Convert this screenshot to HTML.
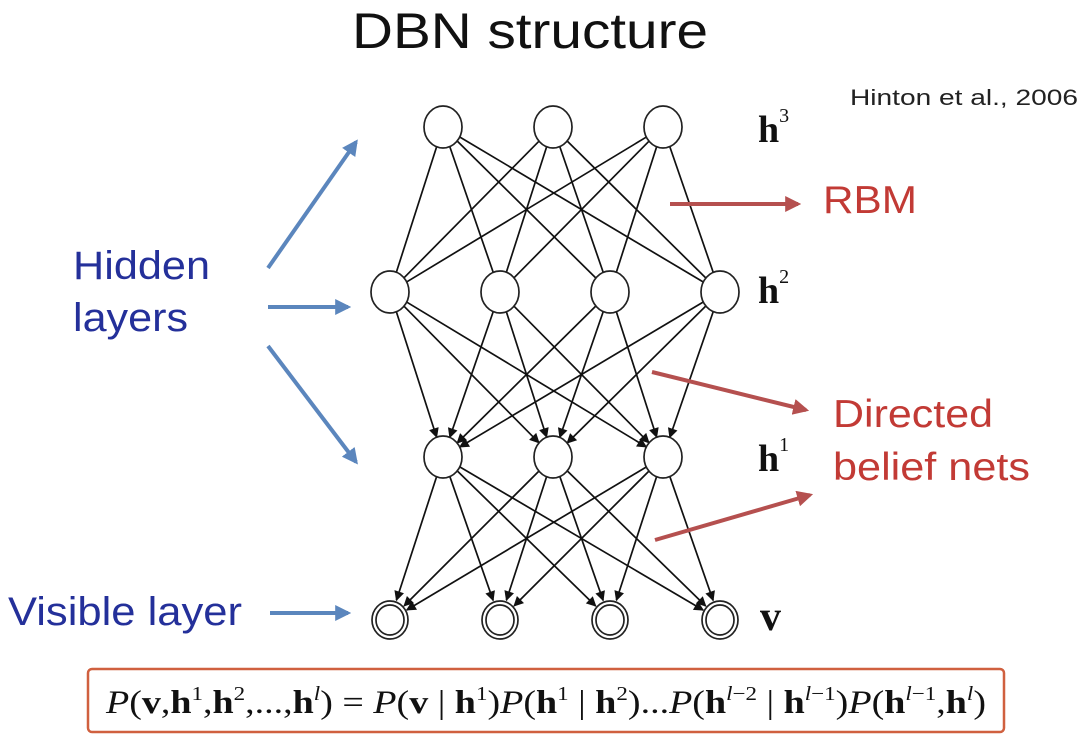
<!DOCTYPE html>
<html><head><meta charset="utf-8"><style>
html,body{margin:0;padding:0;background:#fff;}
body{width:1080px;height:737px;overflow:hidden;position:relative;}
svg{position:absolute;left:0;top:0;}
</style></head><body>
<svg id="s" width="1080" height="737" viewBox="0 0 1080 737" xmlns="http://www.w3.org/2000/svg">
<defs>
<marker id="ak" viewBox="0 0 10 10" refX="9" refY="5" markerWidth="11" markerHeight="10" markerUnits="userSpaceOnUse" orient="auto"><path d="M0,0 L10,5 L0,10 z" fill="#111"/></marker>
<marker id="ab" viewBox="0 0 10 10" refX="8" refY="5" markerWidth="4" markerHeight="4" orient="auto"><path d="M0,0 L10,5 L0,10 z" fill="#5b86bd"/></marker>
<marker id="ar" viewBox="0 0 10 10" refX="8" refY="5" markerWidth="4" markerHeight="4" orient="auto"><path d="M0,0 L10,5 L0,10 z" fill="#b5504f"/></marker>
</defs>
<g id="edges" stroke="#111" stroke-width="1.7"></g>
<g id="nodes" fill="#fff" stroke="#222" stroke-width="1.7"></g>
<g stroke="#5b86bd" stroke-width="4" fill="none">
<line x1="268" y1="268" x2="356" y2="142" marker-end="url(#ab)"/>
<line x1="268" y1="307" x2="348" y2="307" marker-end="url(#ab)"/>
<line x1="268" y1="346" x2="356" y2="462" marker-end="url(#ab)"/>
<line x1="270" y1="613" x2="348" y2="613" marker-end="url(#ab)"/>
</g>
<g stroke="#b5504f" stroke-width="4" fill="none">
<line x1="670" y1="204" x2="798" y2="204" marker-end="url(#ar)"/>
<line x1="652" y1="372" x2="806" y2="410" marker-end="url(#ar)"/>
<line x1="655" y1="540" x2="810" y2="495" marker-end="url(#ar)"/>
</g>
<g font-family="Liberation Sans, sans-serif">
<text x="352" y="48" font-size="50" textLength="356" lengthAdjust="spacingAndGlyphs" fill="#111">DBN structure</text>
<text x="850" y="105" font-size="22" textLength="228" lengthAdjust="spacingAndGlyphs" fill="#222">Hinton et al., 2006</text>
<text x="73" y="279" font-size="40" textLength="137" lengthAdjust="spacingAndGlyphs" fill="#24309a">Hidden</text>
<text x="73" y="331" font-size="40" textLength="115" lengthAdjust="spacingAndGlyphs" fill="#24309a">layers</text>
<text x="8" y="625" font-size="40" textLength="234" lengthAdjust="spacingAndGlyphs" fill="#24309a">Visible layer</text>
<text x="823" y="213" font-size="39" textLength="94" lengthAdjust="spacingAndGlyphs" fill="#c23a35">RBM</text>
<text x="833" y="427" font-size="39" textLength="160" lengthAdjust="spacingAndGlyphs" fill="#c23a35">Directed</text>
<text x="833" y="480" font-size="39" textLength="197" lengthAdjust="spacingAndGlyphs" fill="#c23a35">belief nets</text>
</g>
<g font-family="Liberation Serif, serif" font-weight="bold" fill="#111">
<text x="758" y="142" font-size="38">h<tspan font-size="20" font-weight="normal" dy="-20">3</tspan></text>
<text x="758" y="303" font-size="38">h<tspan font-size="20" font-weight="normal" dy="-20">2</tspan></text>
<text x="758" y="471" font-size="38">h<tspan font-size="20" font-weight="normal" dy="-20">1</tspan></text>
<text x="760" y="630" font-size="42">v</text>
</g>
<rect x="88" y="669" width="916" height="63" rx="4" fill="none" stroke="#d0603f" stroke-width="2.5"/>
<text x="546" y="713" font-family="Liberation Serif, serif" font-size="33" text-anchor="middle" fill="#111" textLength="880" lengthAdjust="spacingAndGlyphs"><tspan font-style="italic">P</tspan>(<tspan font-weight="bold">v</tspan>,<tspan font-weight="bold">h</tspan><tspan font-size="20" dy="-13">1</tspan><tspan dy="13">,</tspan><tspan font-weight="bold">h</tspan><tspan font-size="20" dy="-13">2</tspan><tspan dy="13">,...,</tspan><tspan font-weight="bold">h</tspan><tspan font-size="20" dy="-13" font-style="italic">l</tspan><tspan dy="13">) = </tspan><tspan font-style="italic">P</tspan>(<tspan font-weight="bold">v</tspan> | <tspan font-weight="bold">h</tspan><tspan font-size="20" dy="-13">1</tspan><tspan dy="13">)</tspan><tspan font-style="italic">P</tspan>(<tspan font-weight="bold">h</tspan><tspan font-size="20" dy="-13">1</tspan><tspan dy="13"> | </tspan><tspan font-weight="bold">h</tspan><tspan font-size="20" dy="-13">2</tspan><tspan dy="13">)...</tspan><tspan font-style="italic">P</tspan>(<tspan font-weight="bold">h</tspan><tspan font-size="20" dy="-13"><tspan font-style="italic">l</tspan>−2</tspan><tspan dy="13"> | </tspan><tspan font-weight="bold">h</tspan><tspan font-size="20" dy="-13"><tspan font-style="italic">l</tspan>−1</tspan><tspan dy="13">)</tspan><tspan font-style="italic">P</tspan>(<tspan font-weight="bold">h</tspan><tspan font-size="20" dy="-13"><tspan font-style="italic">l</tspan>−1</tspan><tspan dy="13">,</tspan><tspan font-weight="bold">h</tspan><tspan font-size="20" dy="-13" font-style="italic">l</tspan><tspan dy="13">)</tspan></text>
</svg>
<script>
var NS="http://www.w3.org/2000/svg";
var h3=[443,553,663].map(x=>[x,127]);
var h2=[390,500,610,720].map(x=>[x,292]);
var h1=[443,553,663].map(x=>[x,457]);
var v=[390,500,610,720].map(x=>[x,620]);
var E=document.getElementById("edges"),N=document.getElementById("nodes");
var rx=19,ry=21;
function clip(a,b){var dx=b[0]-a[0],dy=b[1]-a[1];var t=1/Math.sqrt(dx*dx/(rx*rx)+dy*dy/(ry*ry));return [a[0]+dx*t,a[1]+dy*t];}
function ln(a,b,arrow){var p=clip(a,b),q=clip(b,a);var l=document.createElementNS(NS,"line");
l.setAttribute("x1",p[0]);l.setAttribute("y1",p[1]);l.setAttribute("x2",q[0]);l.setAttribute("y2",q[1]);
if(arrow)l.setAttribute("marker-end","url(#ak)");E.appendChild(l);}
h3.forEach(a=>h2.forEach(b=>ln(a,b,false)));
h2.forEach(a=>h1.forEach(b=>ln(a,b,true)));
h1.forEach(a=>v.forEach(b=>ln(a,b,true)));
function el(c,r1,r2){var e=document.createElementNS(NS,"ellipse");e.setAttribute("cx",c[0]);e.setAttribute("cy",c[1]);e.setAttribute("rx",r1);e.setAttribute("ry",r2);N.appendChild(e);}
h3.concat(h2,h1).forEach(c=>el(c,rx,ry));
v.forEach(c=>{el(c,18,19);el(c,14,15);});
</script>
</body></html>
